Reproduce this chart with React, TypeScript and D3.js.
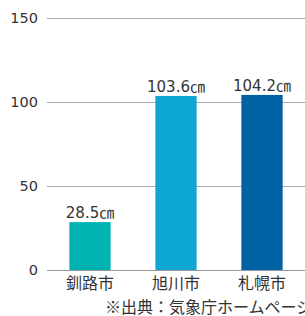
import React, { useEffect, useRef } from 'react'
import * as d3 from 'd3'

const cities = ['釧路市', '旭川市', '札幌市']
const snowDepth = [28.5, 103.6, 104.2]
const barColors = ['#00b3b1', '#0ea7d1', '#0062a3']
const yTicks = [0, 50, 100, 150]
const sourceNote = '※出典：気象庁ホームページ'

const W = 305
const H = 316

export default function App() {
  const ref = useRef<SVGSVGElement>(null)

  useEffect(() => {
    const svg = d3.select(ref.current)
    svg.selectAll('*').remove()

    const font = '"Noto Sans CJK JP", "Noto Sans", sans-serif'
    const numFont = '"DejaVu Sans", "Noto Sans CJK JP", sans-serif'
    const left = 47, right = W, top = 18, bottom = 270

    const x = d3.scaleBand<string>()
      .domain(cities)
      .range([left, right])
      .paddingInner(0.52)
      .paddingOuter(0.26)

    const y = d3.scaleLinear().domain([0, 150]).range([bottom, top])

    // gridlines
    svg.append('g')
      .selectAll('line')
      .data(yTicks)
      .enter()
      .append('line')
      .attr('x1', left)
      .attr('x2', right)
      .attr('y1', d => y(d) + 0.5)
      .attr('y2', d => y(d) + 0.5)
      .attr('stroke', d => d === 0 ? '#999' : '#aaa')
      .attr('stroke-width', 1)

    // tick labels
    svg.append('g')
      .selectAll('text')
      .data(yTicks)
      .enter()
      .append('text')
      .attr('x', 38)
      .attr('y', d => y(d))
      .attr('dy', '0.37em')
      .attr('text-anchor', 'end')
      .attr('font-family', numFont)
      .attr('font-size', 14.5)
      .attr('fill', '#333')
      .text(d => d)

    // bars
    svg.append('g')
      .selectAll('rect')
      .data(snowDepth)
      .enter()
      .append('rect')
      .attr('x', (d, i) => x(cities[i])!)
      .attr('width', x.bandwidth())
      .attr('y', d => y(d))
      .attr('height', d => bottom - y(d))
      .attr('fill', (d, i) => barColors[i])

    // value labels
    svg.append('g')
      .selectAll('text')
      .data(snowDepth)
      .enter()
      .append('text')
      .attr('x', (d, i) => x(cities[i])! + x.bandwidth() / 2)
      .attr('y', d => y(d) - 4)
      .attr('text-anchor', 'middle')
      .attr('font-family', numFont)
      .attr('font-size', 15)
      .attr('fill', '#333')
      .text(d => d.toFixed(1) + '㎝')

    // category labels
    svg.append('g')
      .selectAll('text')
      .data(cities)
      .enter()
      .append('text')
      .attr('x', d => x(d)! + x.bandwidth() / 2)
      .attr('y', 289)
      .attr('text-anchor', 'middle')
      .attr('font-family', font)
      .attr('font-size', 16)
      .attr('fill', '#333')
      .text(d => d)

    svg.append('text')
      .attr('x', 105)
      .attr('y', 313)
      .attr('font-family', font)
      .attr('font-size', 16)
      .attr('fill', '#333')
      .text(sourceNote)
  }, [])

  return (
    <svg
      ref={ref}
      width={W}
      height={H}
      style={{ position: 'absolute', left: 0, top: 0, background: '#fff' }}
    />
  )
}
